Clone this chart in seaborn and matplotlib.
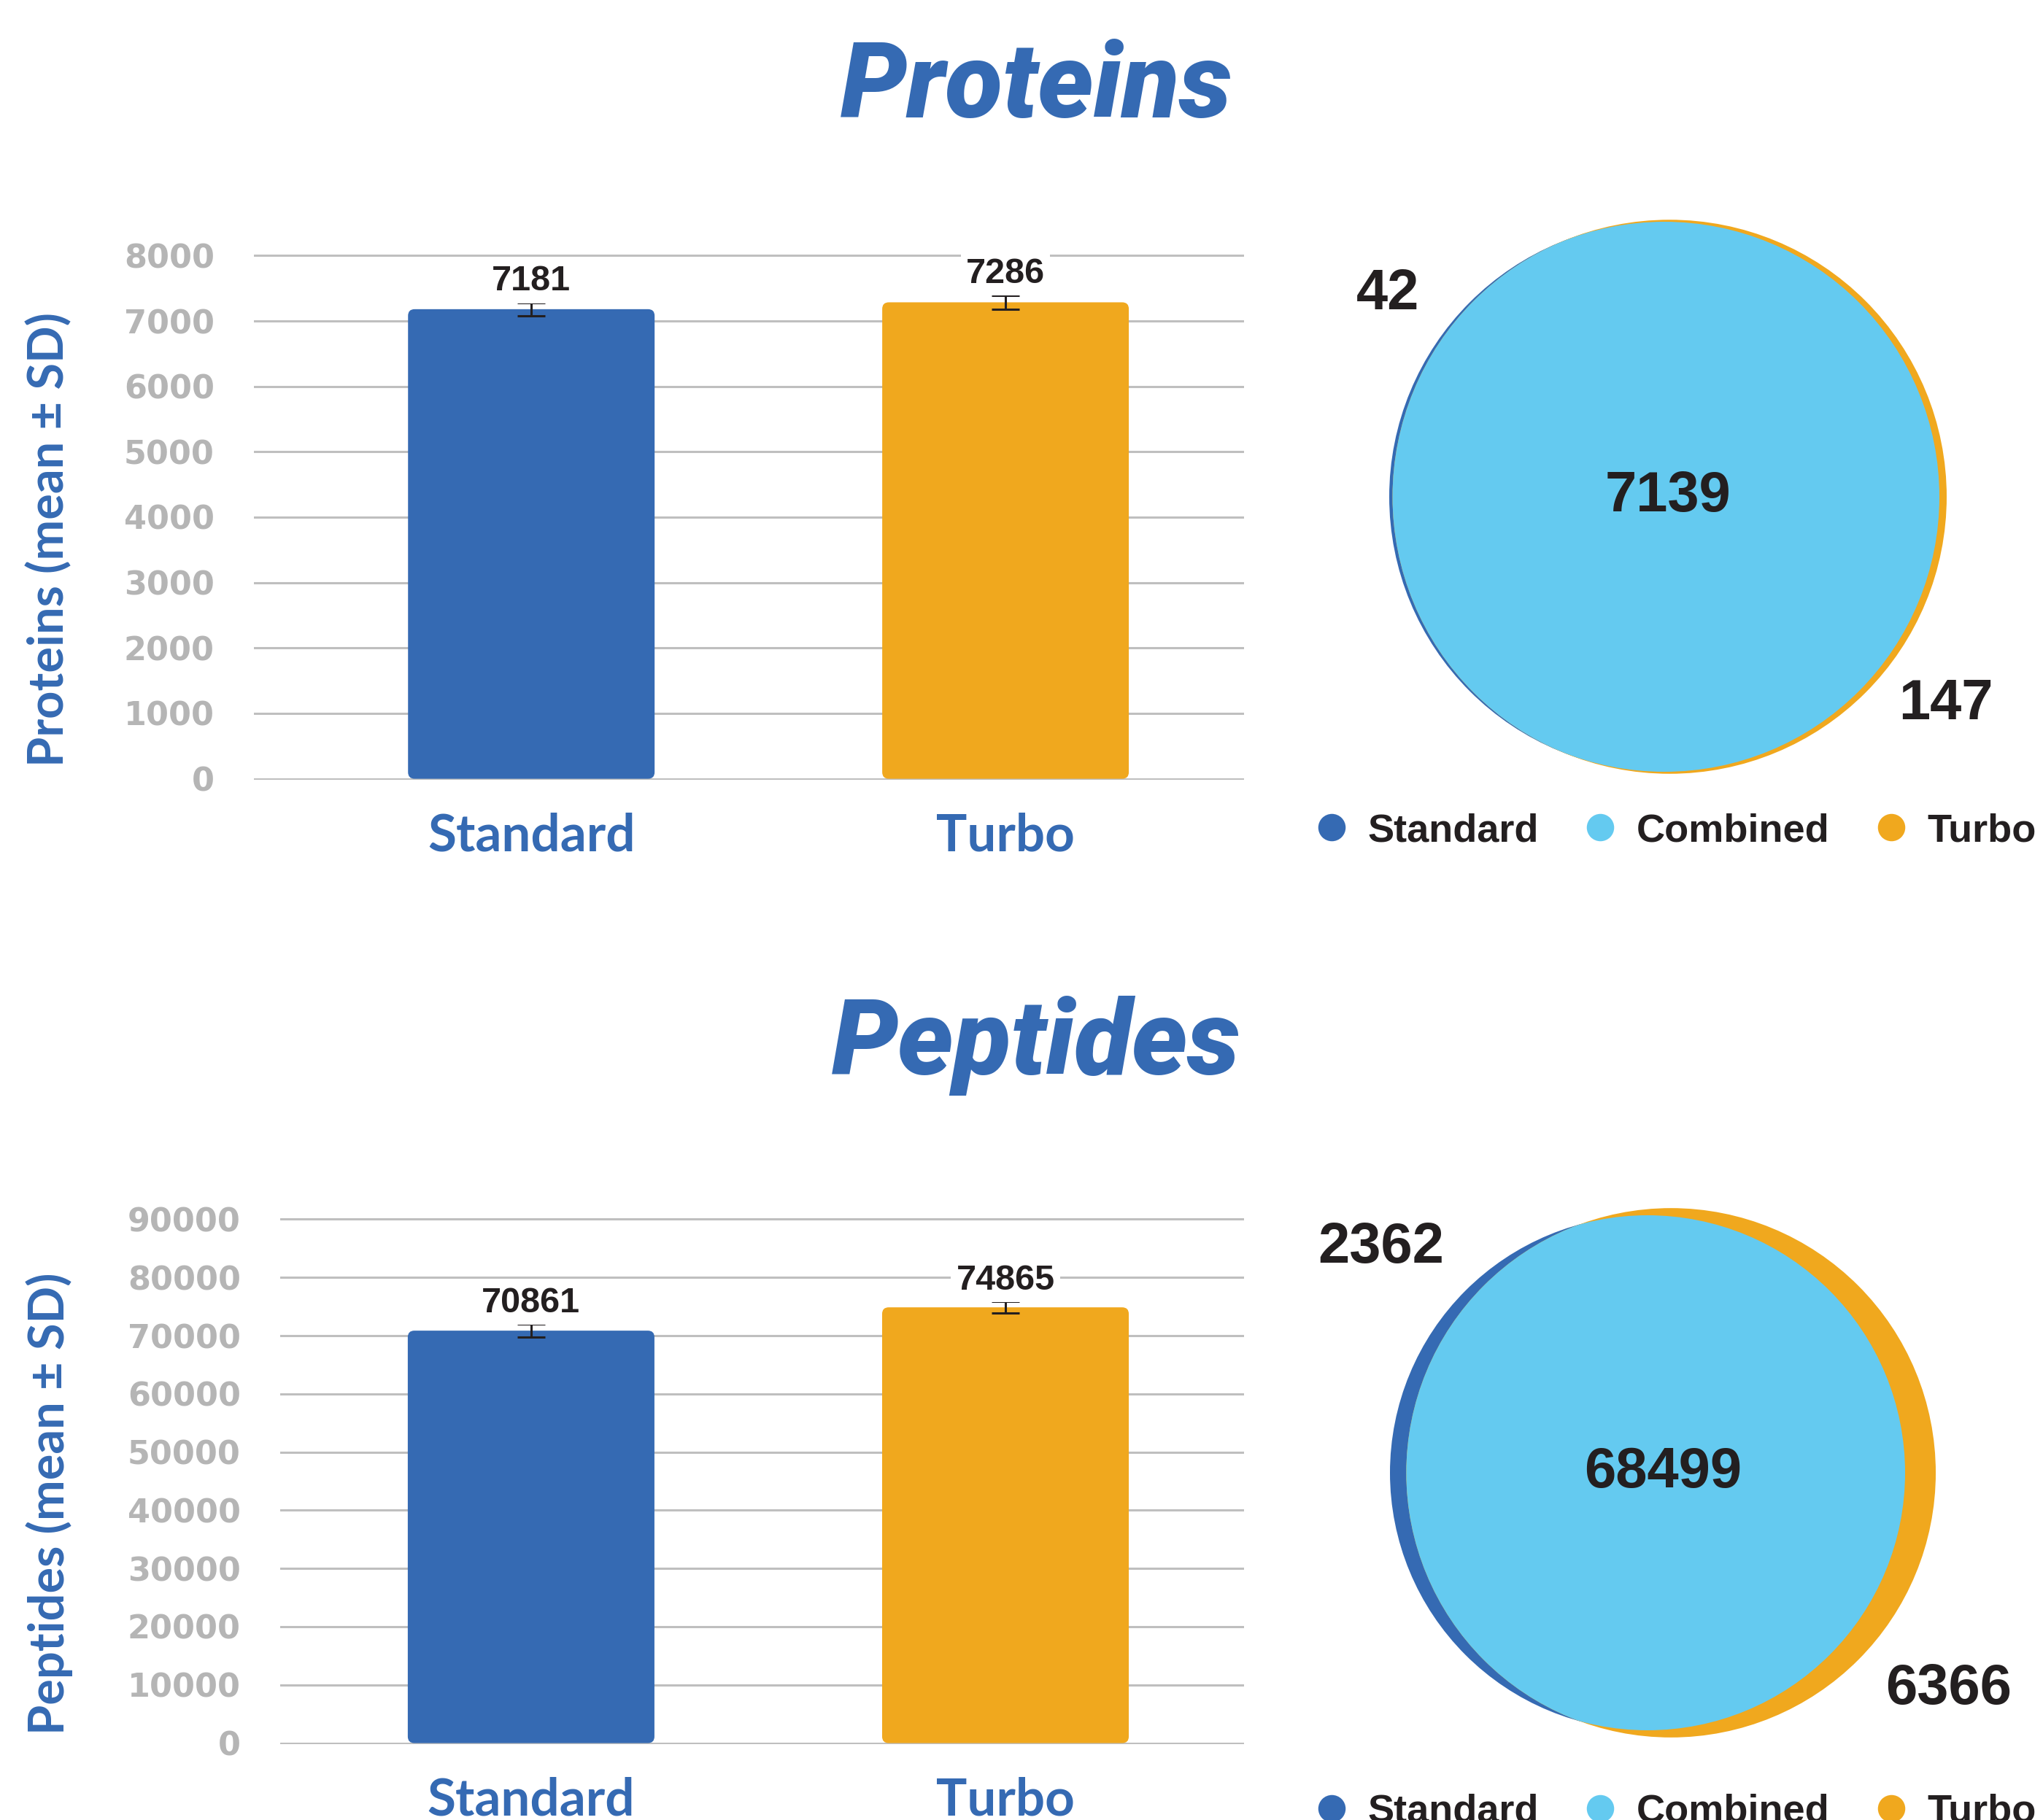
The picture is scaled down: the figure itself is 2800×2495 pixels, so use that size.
import math

import matplotlib
matplotlib.use("Agg")
import matplotlib.pyplot as plt
from matplotlib import font_manager
from matplotlib.font_manager import FontProperties
from matplotlib.lines import Line2D
from matplotlib.patches import Circle, FancyBboxPatch
import seaborn as sns

# ---------------- data ----------------
groups = ["Standard", "Turbo"]

protein_means = [7181, 7286]
protein_sd = [100, 110]
peptide_means = [70861, 74865]
peptide_sd = [1100, 1000]

protein_only_standard = 42
protein_shared = 7139
protein_only_turbo = 147

peptide_only_standard = 2362
peptide_shared = 68499
peptide_only_turbo = 6366

legend_labels = ["Standard", "Combined", "Turbo"]

protein_ticks = list(range(0, 8001, 1000))
peptide_ticks = list(range(0, 90001, 10000))

# ---------------- style ----------------
BLUE = "#356AB3"
ORANGE = "#F0A81E"
LIGHT = "#64CAF0"
INK = "#231F20"
TICK_GREY = "#B5B5B5"
GRID_GREY = "#BFBFBF"

W, H = 2800, 2495  # figure size in pixels (dpi 100)


def heaviest_font(families, italic):
    """Pick the heaviest installed face of the first family that has one."""
    for fam in families:
        best = None
        for f in font_manager.fontManager.ttflist:
            if f.name != fam or (f.style == "italic") != italic:
                continue
            w = f.weight if isinstance(f.weight, int) else font_manager.weight_dict.get(f.weight, 400)
            if best is None or w > best[1]:
                best = (f.fname, w)
        if best is not None and best[1] >= 800:
            return best[0]
    return None


def box(x0, y0, x1, y1):
    """Pixel box (top-left origin) -> figure fraction rect."""
    return [x0 / W, 1 - y1 / H, (x1 - x0) / W, (y1 - y0) / H]


def round_bars(ax, radius_px):
    """Swap seaborn's square bars for bars with softly rounded corners."""
    o = ax.transData.transform((0, 0))
    px_x = ax.transData.transform((1, 0))[0] - o[0]
    px_y = ax.transData.transform((0, 1))[1] - o[1]
    for bar in list(ax.patches):
        x, y = bar.get_xy()
        rounded = FancyBboxPatch(
            (x, y), bar.get_width(), bar.get_height(),
            boxstyle=f"round,pad=0,rounding_size={radius_px / px_x}",
            mutation_aspect=px_x / px_y, fc=bar.get_facecolor(), ec="none", zorder=2)
        bar.remove()
        ax.add_patch(rounded)


def draw_bars(ax, means, sds, ticks, xlim):
    sns.barplot(x=groups, y=means, hue=groups, palette=[BLUE, ORANGE],
                legend=False, width=0.52, saturation=1, ax=ax)
    ax.errorbar(range(len(groups)), means, yerr=sds, fmt="none",
                ecolor=INK, elinewidth=2.2, capsize=14, capthick=2.2, zorder=3)
    for i, (m, s) in enumerate(zip(means, sds)):
        ax.annotate(str(m), (i, m + s), xytext=(0, 12), textcoords="offset points",
                    ha="center", va="baseline", fontsize=35, fontweight="bold",
                    family="Liberation Sans", color=INK, zorder=4,
                    bbox=dict(boxstyle="square,pad=0.15", fc="white", ec="none"))

    top = ticks[-1]
    ax.set_ylim(-top * 0.002, top * 1.002)
    ax.set_yticks(ticks)
    ax.set_xlim(*xlim)
    ax.yaxis.grid(True, color=GRID_GREY, linewidth=2.2)
    ax.set_axisbelow(True)
    sns.despine(ax=ax, left=True, bottom=True)
    ax.set_xlabel("")
    ax.set_ylabel("")
    round_bars(ax, 9)

    ax.tick_params(axis="y", length=0, pad=39, labelsize=32, labelcolor=TICK_GREY)
    ax.tick_params(axis="x", length=0, pad=32, labelsize=51, labelcolor=BLUE)
    for lbl in ax.get_yticklabels():
        lbl.set_fontfamily("DejaVu Sans")
        lbl.set_fontweight("bold")
    for lbl in ax.get_xticklabels():
        lbl.set_fontfamily("Lato")
        lbl.set_fontweight("bold")


def lens_area(r1, r2, d):
    if d >= r1 + r2:
        return 0.0
    if d <= abs(r1 - r2):
        return math.pi * min(r1, r2) ** 2
    a1 = r1 ** 2 * math.acos((d * d + r1 * r1 - r2 * r2) / (2 * d * r1))
    a2 = r2 ** 2 * math.acos((d * d + r2 * r2 - r1 * r1) / (2 * d * r2))
    tri = 0.5 * math.sqrt((-d + r1 + r2) * (d + r1 - r2) * (d - r1 + r2) * (d + r1 + r2))
    return a1 + a2 - tri


def centre_distance(r1, r2, overlap):
    lo, hi = abs(r1 - r2), r1 + r2
    for _ in range(200):
        mid = (lo + hi) / 2
        if lens_area(r1, r2, mid) > overlap:
            lo = mid
        else:
            hi = mid
    return (lo + hi) / 2


def draw_venn(ax, only_std, shared, only_turbo, box_px, centre_px, r_px, offsets):
    """Area-proportional two-set venn; blue circle centre sits at centre_px."""
    r1 = math.sqrt((only_std + shared) / math.pi)
    r2 = math.sqrt((only_turbo + shared) / math.pi)
    d = centre_distance(r1, r2, shared)

    s = r_px / r1
    x0, y0, x1, y1 = box_px
    cx, cy = centre_px
    ax.set_xlim((x0 - cx) / s, (x1 - cx) / s)
    ax.set_ylim((cy - y1) / s, (cy - y0) / s)
    ax.axis("off")

    std = Circle((0, 0), r1, color=BLUE, lw=0)
    turbo = Circle((d, 0), r2, color=ORANGE, lw=0)
    ax.add_patch(std)
    ax.add_patch(turbo)
    both = Circle((d, 0), r2, color=LIGHT, lw=0)
    ax.add_patch(both)
    both.set_clip_path(std)

    font = dict(fontsize=56, fontweight="bold", family="Liberation Sans",
                color=INK, ha="center", va="center")
    (fx1, fy1), (fx2, fy2) = offsets
    ax.text(fx1 * r1, fy1 * r1, str(only_std), **font)
    ax.text(d + fx2 * r2, fy2 * r2, str(only_turbo), **font)
    ax.text((d + r2 - r1) / 2, 0, str(shared), **font)


def add_legend(fig, y_px):
    handles = [Line2D([], [], marker="o", linestyle="none", markersize=27,
                      markerfacecolor=c, markeredgecolor="none")
               for c in (BLUE, LIGHT, ORANGE)]
    leg = fig.legend(handles, legend_labels, loc="center left",
                     bbox_to_anchor=(1806 / W, 1 - y_px / H), ncol=3,
                     frameon=False, borderpad=0, borderaxespad=0,
                     handlelength=0.7, handletextpad=0.57, columnspacing=1.2,
                     prop=dict(family="Liberation Sans", weight="bold", size=39))
    for t in leg.get_texts():
        t.set_color(INK)


sns.set_theme(style="white")
fig = plt.figure(figsize=(W / 100, H / 100), dpi=100)
fig.patch.set_facecolor("white")

title_file = heaviest_font(["Roboto", "Lato", "Inter", "Open Sans", "Noto Sans"], italic=True)
if title_file:
    title_prop = FontProperties(fname=title_file, size=104)
else:
    title_prop = FontProperties(family="Lato", weight="black", style="italic", size=104)
title_font = dict(fontproperties=title_prop, color=BLUE, ha="center", va="baseline")
ylabel_font = dict(family="Lato", weight="bold", size=48, color=BLUE,
                   rotation=90, ha="center", va="center")

# ---- Proteins ----
fig.text(1420 / W, 1 - 161 / H, "Proteins", **title_font)
ax1 = fig.add_axes(box(348, 349, 1705, 1069))
draw_bars(ax1, protein_means, protein_sd, protein_ticks, (-0.585, 1.503))
fig.text(68 / W, 1 - 739 / H, "Proteins (mean ± SD)", **ylabel_font)

v1 = fig.add_axes(box(1760, 180, 2800, 1100))
draw_venn(v1, protein_only_standard, protein_shared, protein_only_turbo,
          (1760, 180, 2800, 1100), (2281, 681), 377,
          [(-1.005, 0.735), (0.997, -0.750)])
add_legend(fig, 1139)

# ---- Peptides ----
fig.text(1420 / W, 1 - 1473 / H, "Peptides", **title_font)
ax2 = fig.add_axes(box(384, 1670, 1705, 2391))
draw_bars(ax2, peptide_means, peptide_sd, peptide_ticks, (-0.529, 1.503))
fig.text(68 / W, 1 - 2061 / H, "Peptides (mean ± SD)", **ylabel_font)

v2 = fig.add_axes(box(1760, 1560, 2800, 2440))
draw_venn(v2, peptide_only_standard, peptide_shared, peptide_only_turbo,
          (1760, 1560, 2800, 2440), (2258, 2019), 353,
          [(-1.034, 0.873), (1.049, -0.816)])
add_legend(fig, 2484)

fig.savefig("out.png", dpi=100)
plt.close(fig)
